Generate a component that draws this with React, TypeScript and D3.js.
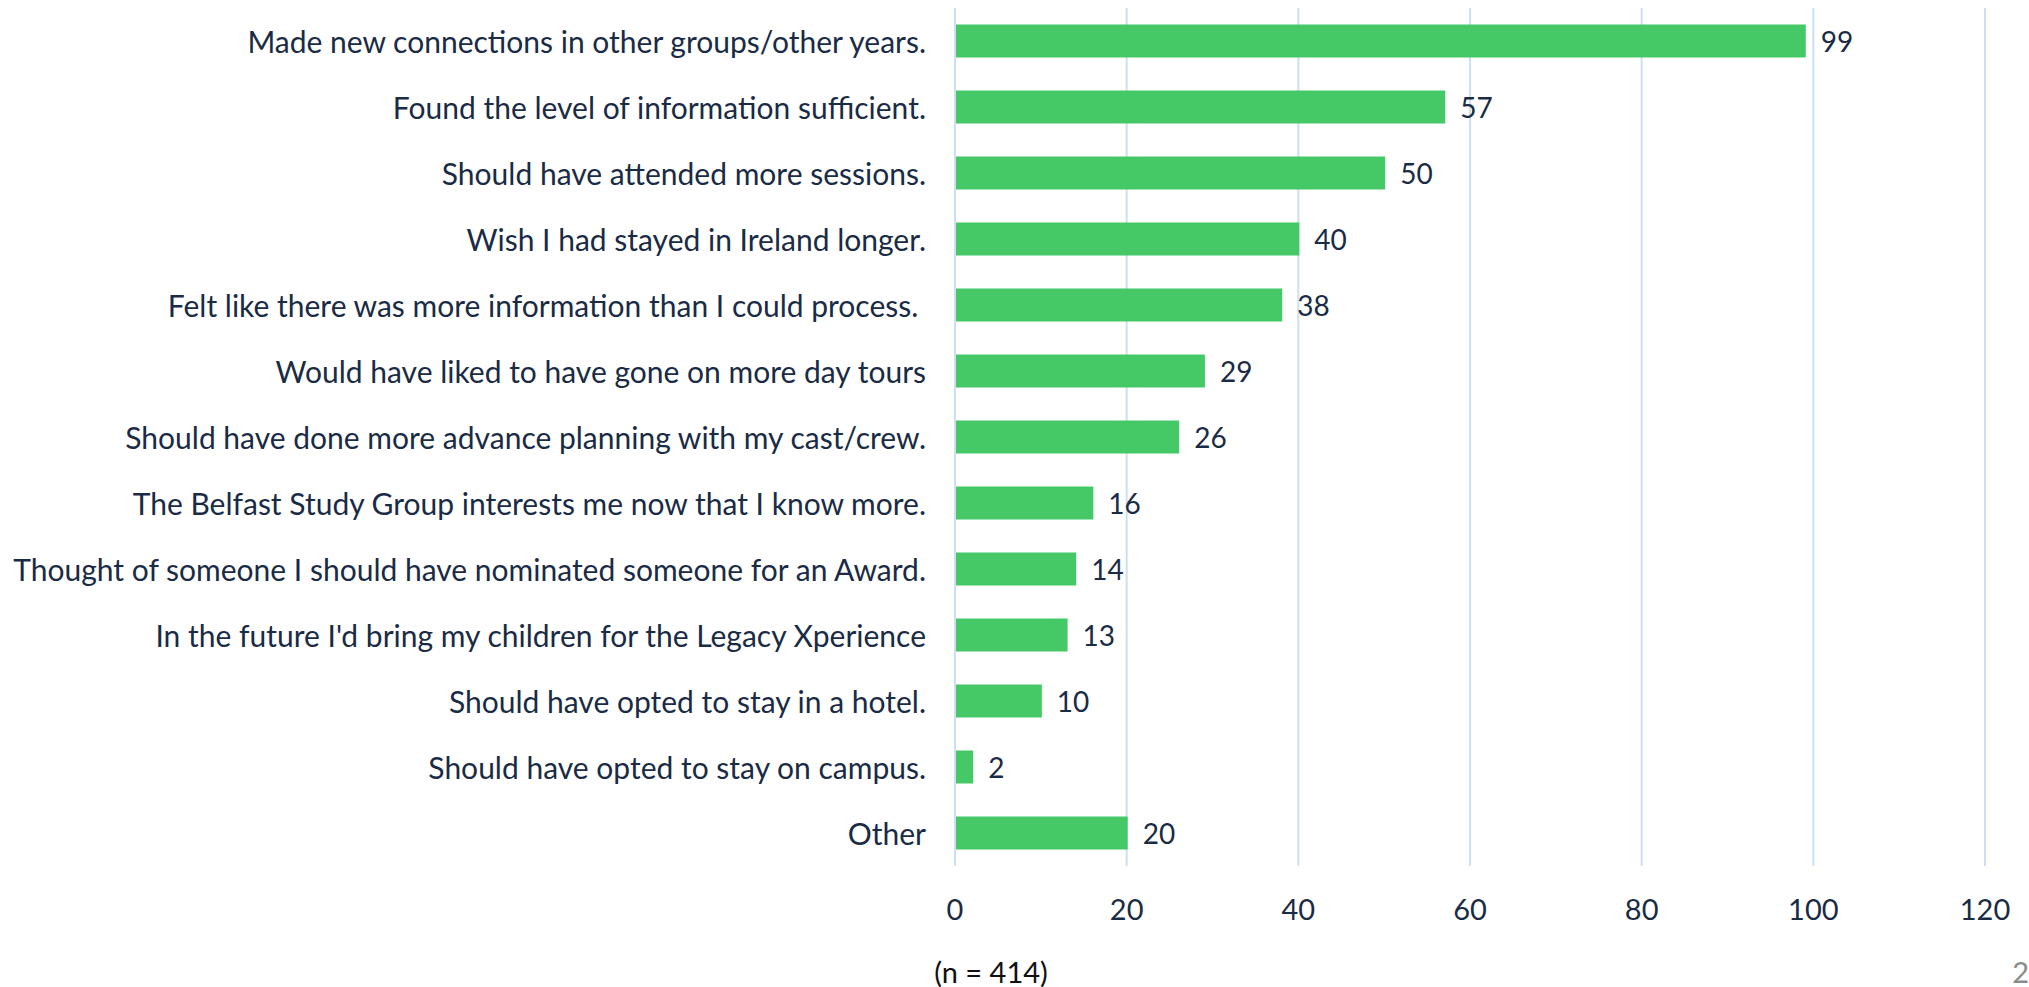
import React, { useEffect, useRef } from 'react';
import * as d3 from 'd3';

const categories = [
  'Made new connections in other groups/other years.',
  'Found the level of information sufficient.',
  'Should have attended more sessions.',
  'Wish I had stayed in Ireland longer.',
  'Felt like there was more information than I could process. ',
  'Would have liked to have gone on more day tours',
  'Should have done more advance planning with my cast/crew.',
  'The Belfast Study Group interests me now that I know more.',
  'Thought of someone I should have nominated someone for an Award.',
  "In the future I'd bring my children for the Legacy Xperience",
  'Should have opted to stay in a hotel.',
  'Should have opted to stay on campus.',
  'Other',
];
const counts = [99, 57, 50, 40, 38, 29, 26, 16, 14, 13, 10, 2, 20];
const xTicks = [0, 20, 40, 60, 80, 100, 120];
const footnote = '(n = 414)';
const pageNumber = '2';

const W = 2029;
const H = 987;
const FONT = 'Lato, "Open Sans", sans-serif';
const TEXT = '#1a2b45';

export default function App() {
  const svgRef = useRef<SVGSVGElement>(null);

  useEffect(() => {
    if (!svgRef.current) return;
    const svg = d3.select(svgRef.current);
    svg.selectAll('*').remove();

    const x = d3.scaleLinear().domain([0, 120]).range([955, 1985]);
    const y = d3.scaleBand<string>()
      .domain(categories)
      .range([8, 866])
      .paddingInner(0.5)
      .paddingOuter(0.25);

    // vertical gridlines
    svg.append('g')
      .selectAll('line')
      .data(xTicks)
      .join('line')
      .attr('x1', d => x(d))
      .attr('x2', d => x(d))
      .attr('y1', 8)
      .attr('y2', 866)
      .attr('stroke', '#cddff2')
      .attr('stroke-width', 2);

    // bars
    svg.append('g')
      .selectAll('rect')
      .data(counts)
      .join('rect')
      .attr('x', x(0) + 1)
      .attr('y', (d, i) => y(categories[i])!)
      .attr('width', d => x(d) - x(0))
      .attr('height', y.bandwidth())
      .attr('fill', '#45c866');

    // value labels
    svg.append('g')
      .selectAll('text')
      .data(counts)
      .join('text')
      .attr('x', d => x(d) + 16)
      .attr('y', (d, i) => y(categories[i])! + y.bandwidth() / 2)
      .attr('dominant-baseline', 'central')
      .attr('fill', TEXT)
      .style('font-family', FONT)
      .style('font-size', '28px')
      .text(d => d);

    // category labels (trailing space kept, as in the source)
    svg.append('g')
      .selectAll('text')
      .data(categories)
      .join('text')
      .attr('x', 926)
      .attr('y', d => y(d)! + y.bandwidth() / 2)
      .attr('text-anchor', 'end')
      .attr('dominant-baseline', 'central')
      .attr('fill', TEXT)
      .style('white-space', 'pre')
      .style('font-family', FONT)
      .style('font-size', '30px')
      .text(d => d);

    // x tick labels
    svg.append('g')
      .selectAll('text')
      .data(xTicks)
      .join('text')
      .attr('x', d => x(d))
      .attr('y', 908)
      .attr('text-anchor', 'middle')
      .attr('dominant-baseline', 'central')
      .attr('fill', TEXT)
      .style('font-family', FONT)
      .style('font-size', '29px')
      .text(d => d);

    svg.append('text')
      .attr('x', 991)
      .attr('y', 971)
      .attr('text-anchor', 'middle')
      .attr('dominant-baseline', 'central')
      .attr('fill', '#111')
      .style('font-family', FONT)
      .style('font-size', '29px')
      .text(footnote);

    svg.append('text')
      .attr('x', 2029)
      .attr('y', 971)
      .attr('text-anchor', 'end')
      .attr('dominant-baseline', 'central')
      .attr('fill', '#8a8a8a')
      .style('font-family', FONT)
      .style('font-size', '29px')
      .text(pageNumber);
  }, []);

  return (
    <div style={{ position: 'absolute', left: 0, top: 0, width: W, height: H, background: '#fff' }}>
      <svg ref={svgRef} width={W} height={H} style={{ display: 'block' }} />
    </div>
  );
}
